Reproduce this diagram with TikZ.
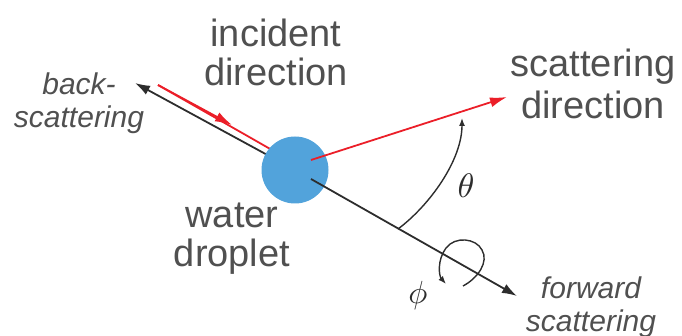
\documentclass[tikz,border=0pt]{standalone}
\usepackage{fontspec}
\setmainfont{Liberation Sans}
\usetikzlibrary{arrows.meta}
\definecolor{txt}{RGB}{80,80,80}
\definecolor{ln}{RGB}{45,45,45}
\definecolor{rd}{RGB}{235,30,40}
\definecolor{drop}{RGB}{82,163,219}
\begin{document}
\begin{tikzpicture}[x=1pt,y=-1pt,
  bigtxt/.style={text=txt,font=\fontsize{38}{39}\selectfont,align=center,inner sep=0pt},
  ittxt/.style={text=txt,font=\fontsize{30}{33}\selectfont\itshape,align=center,inner sep=0pt},
  mathtxt/.style={text=ln,inner sep=0pt},
  axisline/.style={draw=ln,line width=1.8pt},
  rayline/.style={draw=rd,line width=1.8pt},
  bighead/.style={-{Latex[length=15pt,width=10pt]}},
  redhead/.style={-{Latex[length=17pt,width=10pt]}},
  smallhead/.style={-{Latex[length=8pt,width=6pt]}},
  angleline/.style={draw=ln,line width=1.4pt}]
\useasboundingbox (0,0) rectangle (682,336);

\coordinate (bt) at (135,83);
\coordinate (c) at (295,170);
\coordinate (ft) at (517,296);
\coordinate (fs) at (311,179);
\coordinate (ri) at (158,85);
\coordinate (rm) at (232,125);
\coordinate (re) at (272,150);
\coordinate (rs) at (311,160);
\coordinate (rt) at (507,97);
\coordinate (ts) at (398,229);
\coordinate (tt) at (462,118);

% back-scattering axis
\draw[axisline,bighead] (c) -- (bt);
% incident ray
\draw[rayline] (ri) -- (re);
\draw[rayline,redhead] (ri) -- (rm);
% droplet
\node[circle,fill=drop,minimum size=67pt,inner sep=0pt] (drop) at (c) {};
% forward axis
\draw[axisline,bighead] (fs) -- (ft);
% scattering ray
\draw[rayline,redhead] (rs) -- (rt);
% theta arc
\draw[angleline,smallhead] (ts) .. controls (430,205) and (462,160) .. (tt);
% phi loop
\coordinate (ps) at (463,286);
\coordinate (pe) at (446,284);
\draw[angleline,smallhead] (ps) .. controls (478,278) and (489,262) .. (482,250)
  .. controls (476,238) and (455,236) .. (446,248)
  .. controls (437,260) and (439,276) .. (pe);

% labels
\node[bigtxt,anchor=base] (inc) at (276,86) {incident\\direction};
\node[bigtxt,anchor=base,font=\fontsize{38}{42}\selectfont] (sca) at (593,119) {scattering\\direction};
\node[bigtxt,anchor=base] (wat) at (232,267) {water\\droplet};
\node[ittxt,anchor=base] (back) at (79,128) {back-\\scattering};
\node[ittxt,anchor=base] (fwd) at (591,331) {forward\\scattering};
\node[mathtxt] (th) at (466,186) {\scalebox{3.4}{$\theta$}};
\node[mathtxt] (ph) at (418,296) {\scalebox{3.2}{$\phi$}};
\end{tikzpicture}
\end{document}
